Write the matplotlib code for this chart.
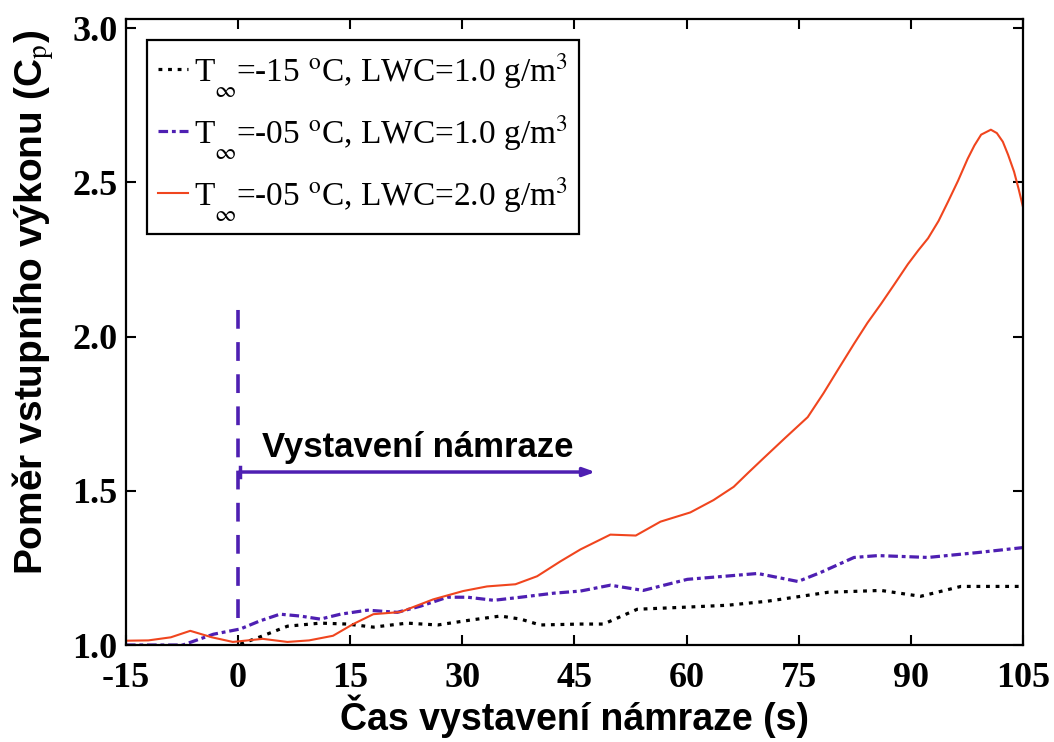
import matplotlib
matplotlib.use("Agg")
import matplotlib.pyplot as plt

plt.rcParams['mathtext.fontset'] = 'stix'

# data
t_red = [-15, -12, -9, -6.4, -3.5, -0.7, 3.3, 6.6, 9.5, 12.7, 15.4, 18.1, 21.7, 26.1, 30.1,
         33.3, 37.1, 40, 43.1, 45.8, 49.8, 53.2, 56.5, 60.5, 63.6, 66.3, 68.3, 70.3, 73.2,
         76.2, 78.3, 80.3, 82.4, 84.2, 86.0, 87.8, 89.6, 91.0, 92.3, 93.7, 95.0, 96.3, 97.6,
         98.5, 99.4, 100.7, 101.5, 102.3, 103.0, 103.8, 104.4, 105]
cp_red = [1.014, 1.015, 1.025, 1.046, 1.025, 1.01, 1.02, 1.01, 1.015, 1.03, 1.068, 1.10,
          1.107, 1.148, 1.175, 1.19, 1.197, 1.223, 1.271, 1.31, 1.358, 1.355, 1.40, 1.43,
          1.47, 1.513, 1.56, 1.606, 1.672, 1.739, 1.816, 1.895, 1.977, 2.045, 2.106, 2.17,
          2.235, 2.28, 2.319, 2.375, 2.439, 2.505, 2.577, 2.62, 2.655, 2.671, 2.66, 2.632,
          2.59, 2.535, 2.48, 2.42]

t_blue = [-15, -7.4, -3.3, 0.3, 2.9, 5.6, 8.3, 11, 13.7, 17.3, 21.3, 24.4, 28, 30.7, 34.2,
          37.8, 42.2, 45.8, 49.8, 54.2, 60.1, 64.6, 69.5, 74.9, 77.9, 82.4, 85.6, 92.3, 99, 105]
cp_blue = [1.0, 1.0, 1.035, 1.052, 1.078, 1.1, 1.094, 1.084, 1.1, 1.113, 1.106, 1.126, 1.155,
           1.155, 1.145, 1.155, 1.168, 1.175, 1.194, 1.177, 1.213, 1.222, 1.232, 1.206, 1.235,
           1.284, 1.29, 1.284, 1.30, 1.316]

t_black = [0.3, 2.9, 6.6, 11, 14.6, 18.1, 22.6, 26.7, 31.1, 35.1, 37.8, 40.4, 45.8, 48.9,
           53.4, 60.1, 65.5, 70.8, 75.3, 78.9, 86, 91.3, 96.7, 105]
cp_black = [1.003, 1.026, 1.061, 1.071, 1.068, 1.058, 1.071, 1.065, 1.081, 1.094, 1.084,
            1.065, 1.068, 1.068, 1.116, 1.123, 1.129, 1.142, 1.158, 1.171, 1.177, 1.158,
            1.19, 1.19]

labels = [r'T$\underset{\infty}{\ }$=-15 $^{\rm o}$C, LWC=1.0 g/m$^{3}$',
          r'T$\underset{\infty}{\ }$=-05 $^{\rm o}$C, LWC=1.0 g/m$^{3}$',
          r'T$\underset{\infty}{\ }$=-05 $^{\rm o}$C, LWC=2.0 g/m$^{3}$']
xticks = [-15, 0, 15, 30, 45, 60, 75, 90, 105]
yticks = [1.0, 1.5, 2.0, 2.5, 3.0]

RED = '#F0451E'
PURPLE = '#4E1FB2'

fig = plt.figure(figsize=(10.54, 7.42), dpi=100)
ax = fig.add_axes([0.1195, 0.1307, 0.8511, 0.8437])

ax.plot(t_black, cp_black, color='black', lw=2.3, linestyle=(0, (1.2, 1.8)), label=labels[0])
ax.plot(t_blue, cp_blue, color=PURPLE, lw=2.3, linestyle=(0, (3, 1.2, 1.2, 1.2)), label=labels[1])
ax.plot(t_red, cp_red, color=RED, lw=1.5, label=labels[2])

# start of icing exposure
ax.plot([0, 0], [1.088, 2.09], color=PURPLE, lw=2.6, linestyle=(0, (5.2, 3.7)))
ax.annotate('', xy=(47.8, 1.561), xytext=(0.2, 1.561),
            arrowprops=dict(arrowstyle='-|>,head_length=0.7,head_width=0.25',
                            color=PURPLE, lw=2.5, shrinkA=0, shrinkB=0))
ax.plot([0.2, 0.2], [1.545, 1.577], color=PURPLE, lw=2.5)
ax.text(3.2, 1.61, 'Vystavení námraze', fontsize=25, fontweight='bold',
        family='Liberation Sans', va='baseline', ha='left')

ax.set_xlim(-15, 105)
ax.set_ylim(1.0, 3.03)
ax.set_xticks(xticks)
ax.set_yticks(yticks)
ax.set_xticklabels([str(v) for v in xticks])
ax.set_yticklabels(['%.1f' % v for v in yticks])
for lab in ax.get_xticklabels() + ax.get_yticklabels():
    lab.set_family('Liberation Serif')
    lab.set_fontweight('bold')
    lab.set_fontsize(26)
ax.tick_params(direction='in', length=7, width=1.5, top=True, right=True)
ax.tick_params(axis='x', pad=12)
ax.tick_params(axis='y', pad=6)
for s in ax.spines.values():
    s.set_linewidth(1.6)

ax.set_xlabel('Čas vystavení námraze (s)', fontsize=27, fontweight='bold',
              family='Liberation Sans', labelpad=0)
ax.set_ylabel(r'Poměr vstupního výkonu (C$_{\rm p}$)', fontsize=28, fontweight='bold',
              family='Liberation Sans')
ax.yaxis.set_label_coords(-0.078, 0.548)

leg = ax.legend(loc='upper left', bbox_to_anchor=(0.0234, 0.966),
                prop={'family': 'Liberation Serif', 'size': 24},
                handlelength=0.9, handletextpad=0.2, labelspacing=0.4,
                borderpad=0.32, borderaxespad=0, fancybox=False, framealpha=1)
leg.get_frame().set_edgecolor('black')
leg.get_frame().set_linewidth(1.6)

fig.savefig('out.png', dpi=100)
